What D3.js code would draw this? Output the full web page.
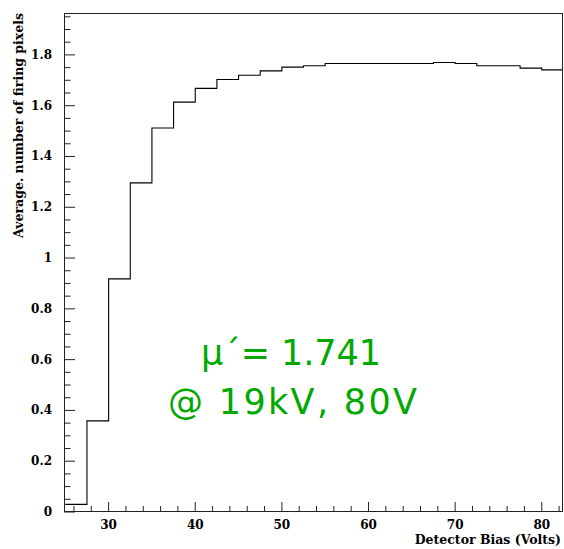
<!DOCTYPE html>
<html lang="en">
<head>
  <meta charset="UTF-8">
  <title>Average number of firing pixels vs detector bias</title>
  <script src="https://d3js.org/d3.v7.min.js"></script>
  <style>
    body { margin: 0; background: #fff; }
    .frame { fill: none; stroke: #222; stroke-width: 1px; }
    .tick line { stroke: #222; }
    .lbl { font: bold 12px "DejaVu Serif", serif; fill: #000; }
    .title { font: bold 12.5px "DejaVu Serif", serif; fill: #000; }
    .hist { fill: none; stroke: #000; stroke-width: 1.1px; }
    .note { font: 35px "DejaVu Sans", sans-serif; fill: #00a800; }
  </style>
</head>
<body>
  <svg></svg>
  <script>
    // Bin lower edges (Volts), bin width 2.5
    const binStart = [25, 27.5, 30, 32.5, 35, 37.5, 40, 42.5, 45, 47.5, 50, 52.5,
                      55, 57.5, 60, 62.5, 65, 67.5, 70, 72.5, 75, 77.5, 80];
    const binWidth = 2.5;
    // Average number of firing pixels per bin
    const avgPixels = [0.03, 0.359, 0.918, 1.296, 1.512, 1.614, 1.668, 1.703, 1.72, 1.737, 1.752, 1.757,
                       1.766, 1.766, 1.766, 1.766, 1.766, 1.770, 1.766, 1.757, 1.757, 1.748, 1.741];

    const xMajor = [30, 40, 50, 60, 70, 80];
    const xMinor = d3.range(26, 83, 2);
    const yMajor = [0, 0.2, 0.4, 0.6, 0.8, 1, 1.2, 1.4, 1.6, 1.8];
    const yMinor = d3.range(0, 1.96, 0.05);

    const width = 564, height = 549;
    const pLeft = 64, pRight = 563, pTop = 13, pBottom = 512;

    const svg = d3.select("svg")
        .attr("width", width)
        .attr("height", height);

    const x = d3.scaleLinear().domain([24.85, 82.45]).range([pLeft, pRight]);
    const y = d3.scaleLinear().domain([0, 1.965]).range([pBottom, pTop]);

    svg.append("clipPath").attr("id", "plot")
      .append("rect")
        .attr("x", pLeft).attr("y", pTop)
        .attr("width", pRight - pLeft).attr("height", pBottom - pTop);

    // histogram as steps
    const pts = binStart.map((b, i) => [b, avgPixels[i]]);
    pts.push([binStart[binStart.length - 1] + binWidth, avgPixels[avgPixels.length - 1]]);
    const line = d3.line()
        .x(d => x(d[0]))
        .y(d => y(d[1]))
        .curve(d3.curveStepAfter);

    svg.append("path")
        .attr("class", "hist")
        .attr("clip-path", "url(#plot)")
        .attr("d", line(pts));

    // ticks inside the frame
    const tk = svg.append("g").attr("class", "tick");
    tk.selectAll("line.xmin").data(xMinor).join("line")
        .attr("x1", d => x(d)).attr("x2", d => x(d))
        .attr("y1", pBottom).attr("y2", d => pBottom - (xMajor.includes(d) ? 10 : 6));
    tk.selectAll("line.ymin").data(yMinor).join("line")
        .attr("y1", d => y(d)).attr("y2", d => y(d))
        .attr("x1", pLeft)
        .attr("x2", d => pLeft + (yMajor.some(v => Math.abs(v - d) < 1e-6) ? 11 : 6.5));

    svg.append("rect")
        .attr("class", "frame")
        .attr("x", pLeft + 0.5).attr("y", pTop + 0.5)
        .attr("width", pRight - pLeft - 1).attr("height", pBottom - pTop - 1);

    // tick labels
    svg.selectAll("text.xl").data(xMajor).join("text")
        .attr("class", "lbl")
        .attr("x", d => x(d))
        .attr("y", pBottom + 17)
        .attr("text-anchor", "middle")
        .text(d => d);

    svg.selectAll("text.yl").data(yMajor).join("text")
        .attr("class", "lbl")
        .attr("x", pLeft - 12)
        .attr("y", d => y(d) + 4)
        .attr("text-anchor", "end")
        .text(d => d);

    // axis titles
    svg.append("text")
        .attr("class", "title")
        .attr("x", pRight - 2)
        .attr("y", pBottom + 32)
        .attr("text-anchor", "end")
        .text("Detector Bias (Volts)");

    svg.append("text")
        .attr("class", "title")
        .attr("transform", `translate(23,${pTop}) rotate(-90)`)
        .attr("text-anchor", "end")
        .text("Average. number of firing pixels");

    // annotation
    svg.append("text")
        .attr("class", "note")
        .attr("x", 201).attr("y", 365)
        .attr("textLength", 180)
        .attr("lengthAdjust", "spacing")
        .text("\u03bc\u00b4= 1.741");
    svg.append("text")
        .attr("class", "note")
        .attr("x", 168).attr("y", 414)
        .attr("textLength", 249)
        .attr("lengthAdjust", "spacing")
        .text("@ 19kV, 80V");
  </script>
</body>
</html>
